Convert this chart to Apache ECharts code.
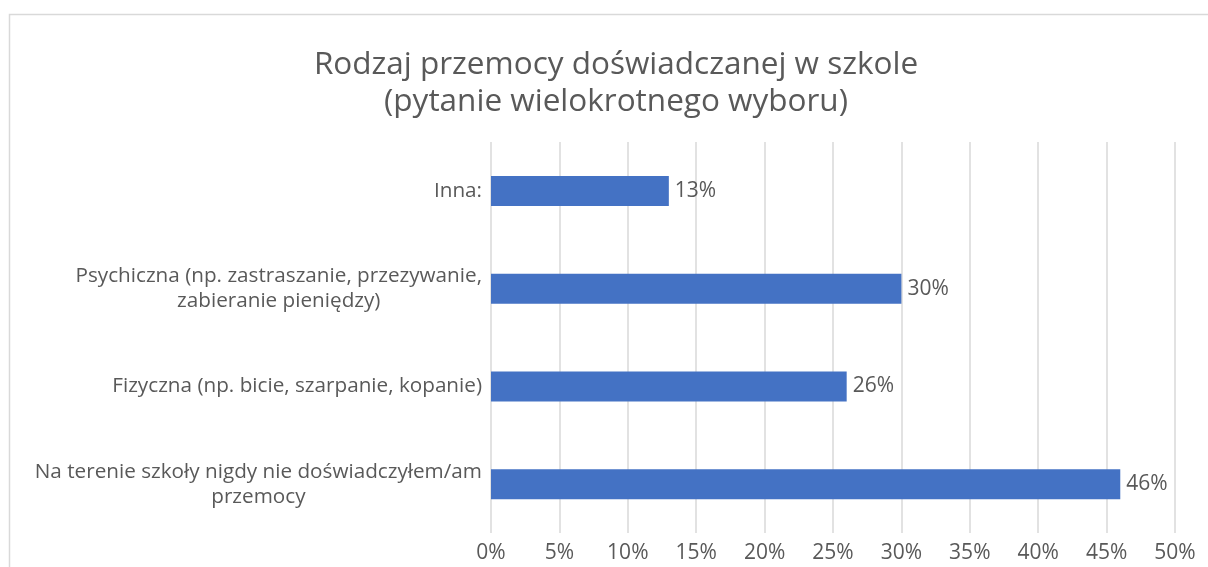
<!DOCTYPE html>
<html>
<head>
<meta charset="utf-8">
<script src="https://cdn.jsdelivr.net/npm/echarts@6/dist/echarts.min.js"></script>
<style>
  html, body { margin: 0; padding: 0; background: #fff; }
  #chart { width: 1208px; height: 567px; }
</style>
</head>
<body>
<div id="chart"></div>
<script>
// Categories listed bottom to top (category axis starts at the bottom)
const categories = [
  'Na terenie szkoły nigdy nie doświadczyłem/am\nprzemocy',
  'Fizyczna (np. bicie, szarpanie, kopanie)',
  'Psychiczna (np. zastraszanie, przezywanie,\nzabieranie pieniędzy)',
  'Inna:'
];
// Share of answers, in percent
const values = [46, 26, 30, 13];
// Value axis ticks
const axisMin = 0;
const axisMax = 50;
const axisStep = 5;

const FONT = '"Open Sans", sans-serif';
const TEXT = '#595959';

const chart = echarts.init(document.getElementById('chart'), null, { renderer: 'canvas' });

chart.setOption({
  backgroundColor: '#ffffff',
  animation: false,
  title: {
    text: 'Rodzaj przemocy doświadczanej w szkole\n(pytanie wielokrotnego wyboru)',
    left: 611,
    top: 42,
    textAlign: 'center',
    textStyle: {
      fontFamily: FONT,
      fontSize: 31.5,
      fontWeight: 'normal',
      color: TEXT,
      lineHeight: 37
    }
  },
  graphic: [{
    type: 'rect',
    shape: { x: 9.5, y: 14.5, width: 1300, height: 700 },
    style: { fill: 'none', stroke: '#d9d9d9', lineWidth: 1.5 },
    silent: true,
    z: -1
  }],
  grid: {
    left: 491,
    right: 33,
    top: 142,
    bottom: 34,
    containLabel: false
  },
  xAxis: {
    type: 'value',
    min: axisMin,
    max: axisMax,
    interval: axisStep,
    axisLine: { show: false },
    axisTick: { show: false },
    splitLine: { show: true, lineStyle: { color: '#d9d9d9', width: 1.5 } },
    axisLabel: {
      formatter: '{value}%',
      fontFamily: FONT,
      fontSize: 21,
      color: TEXT,
      margin: 10
    }
  },
  yAxis: {
    type: 'category',
    data: categories,
    axisLine: { show: false },
    axisTick: { show: false },
    splitLine: { show: false },
    axisLabel: {
      margin: 9,
      formatter: function (v) {
        return v.split('\n').map(function (s) { return '{c|' + s + '}'; }).join('\n');
      },
      rich: {
        c: {
          align: 'center',
          fontFamily: FONT,
          fontSize: 20.7,
          color: TEXT,
          lineHeight: 25
        }
      }
    }
  },
  series: [{
    type: 'bar',
    data: values,
    barWidth: 30,
    itemStyle: { color: '#4472c4' },
    label: {
      show: true,
      position: 'right',
      distance: 6,
      formatter: '{c}%',
      fontFamily: FONT,
      fontSize: 21,
      color: TEXT
    }
  }]
});
</script>
</body>
</html>
